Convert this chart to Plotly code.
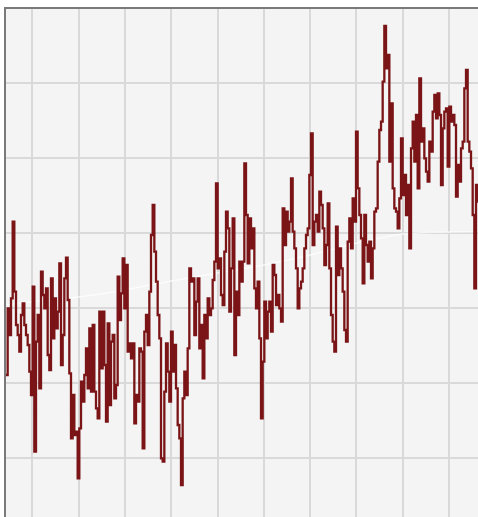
import numpy as np
import plotly.graph_objects as go

# Series values (arbitrary anomaly units), evenly spaced in time
YEAR_START = 1874.31
YEAR_STEP = 0.36
values = [
    -2.00, 0.00, -0.80, 0.30, 2.60, 0.50, -0.50, -0.80, -1.30, -0.20,
    0.15, -0.50, -0.80, -1.10, -1.90, -2.60, 0.65, -4.30, -1.00, -0.20,
    -2.40, 1.10, 0.40, 0.00, 0.60, -1.40, -1.85, 0.90, -0.90, 0.30,
    -0.60, -0.10, 1.35, -1.70, -0.80, 0.90, 1.52, 0.25, -1.95, -3.90,
    -2.60, -3.80, -3.70, -5.10, -3.60, -2.20, -2.80, -2.00, -1.20, -2.40,
    -0.60, -2.50, -0.50, -2.50, -3.00, -3.30, -0.10, -1.80, -0.10, -1.70,
    -3.40, -0.45, -2.90, -1.00, -0.80, -2.70, -2.30, 0.95, -0.35, 0.45,
    1.50, 0.00, 1.30, -1.30, -1.05, -1.50, -1.05, -3.45, -2.60, -2.80,
    -1.20, -1.30, -4.20, -0.70, -0.20, -1.10, 0.50, 2.20, 3.10, 1.70,
    0.80, -0.20, -0.90, -4.50, -4.60, -2.50, -1.05, -1.90, -2.80, -0.70,
    -1.90, -1.10, -2.40, -3.50, -3.90, -5.30, -2.70, -1.90, -2.60, -1.20,
    1.20, 0.80, 0.90, -0.80, 0.20, 0.90, -1.20, -0.50, -2.10, -0.20,
    -0.90, 0.30, -0.20, 0.00, 0.85, 1.40, 3.75, 1.20, 1.50, 0.40,
    0.10, 1.70, 2.90, 2.40, -0.10, 1.20, 2.70, -1.40, 0.50, -0.20,
    1.40, 0.80, 1.40, 4.35, 2.80, 1.35, 2.70, 1.80, 2.40, 0.60,
    0.00, 0.80, -0.90, -3.30, -1.60, 0.20, -0.90, -0.10, 0.20, -0.70,
    1.30, 1.00, 0.10, 0.40, 0.00, -0.40, 3.00, 1.90, 2.90, 2.30,
    2.60, 3.90, 2.30, 1.80, 1.20, 0.00, 0.60, 0.80, 1.20, 1.80,
    2.20, 2.40, 4.00, 5.25, 1.90, 2.60, 2.80, 2.30, 3.50, 3.10,
    2.40, 1.30, 1.90, 3.15, 1.20, -0.20, -1.00, -1.30, 2.45, 1.00,
    1.80, 1.20, 0.50, -0.65, -1.00, 2.00, 2.70, 1.80, 3.30, 2.60,
    5.30, 3.60, 2.80, 2.10, 0.75, 2.80, 1.90, 1.40, 2.00, 0.90,
    1.80, 2.90, 3.00, 4.40, 5.35, 5.60, 6.80, 8.47, 7.20, 7.60,
    4.40, 6.15, 3.60, 3.00, 2.90, 2.40, 3.30, 5.10, 3.40, 4.00,
    2.80, 3.70, 1.80, 4.80, 5.60, 4.40, 5.80, 3.60, 6.90, 5.00,
    5.40, 4.50, 4.10, 3.80, 5.00, 4.70, 5.90, 6.40, 5.70, 6.45,
    5.80, 3.70, 5.40, 5.90, 6.00, 4.25, 6.05, 5.60, 5.80, 5.50,
    3.35, 4.30, 3.80, 4.80, 5.00, 6.60, 7.15, 5.00, 4.70, 4.20,
    2.80, 0.60, 3.70, 3.20, 3.60,
]
years = YEAR_START + YEAR_STEP * np.arange(len(values))

# Faint white trend line
trend_years = [1874.3, 1880, 1890, 1900, 1910, 1920, 1930, 1940, 1950, 1960, 1970, 1976.3]
trend_values = [0.10, 0.20, 0.34, 0.55, 0.82, 1.06, 1.30, 1.60, 1.95, 2.23, 2.29, 2.30]

fig = go.Figure()
fig.add_trace(go.Scatter(
    x=trend_years, y=trend_values, mode="lines",
    line=dict(color="rgba(255,255,255,0.7)", width=1.5, shape="spline"),
    hoverinfo="skip", showlegend=False,
))
fig.add_trace(go.Scatter(
    x=years, y=values, mode="lines",
    line=dict(color="#7A1416", width=2.3, shape="hv"),
    showlegend=False,
))

fig.update_layout(
    width=478, height=517,
    margin=dict(l=6, r=0, t=9, b=0),
    paper_bgcolor="#FFFFFF",
    plot_bgcolor="#F4F4F4",
    xaxis=dict(
        range=[1874.31, 1976.26], tick0=1880, dtick=10,
        showgrid=True, gridcolor="#D9D9D9", gridwidth=1.5,
        zeroline=False, showticklabels=False, ticks="",
        side="top", showline=True, linecolor="#7A7A7A", linewidth=2,
    ),
    yaxis=dict(
        range=[-6.26, 8.98], tick0=0, dtick=2.25,
        showgrid=True, gridcolor="#D9D9D9", gridwidth=1.5,
        zeroline=False, showticklabels=False, ticks="",
        showline=True, linecolor="#7A7A7A", linewidth=2,
    ),
)

fig.write_html(
    "out.html",
    config={"displayModeBar": False},
    post_script="document.body.style.margin='0';document.body.style.overflow='hidden';",
)
